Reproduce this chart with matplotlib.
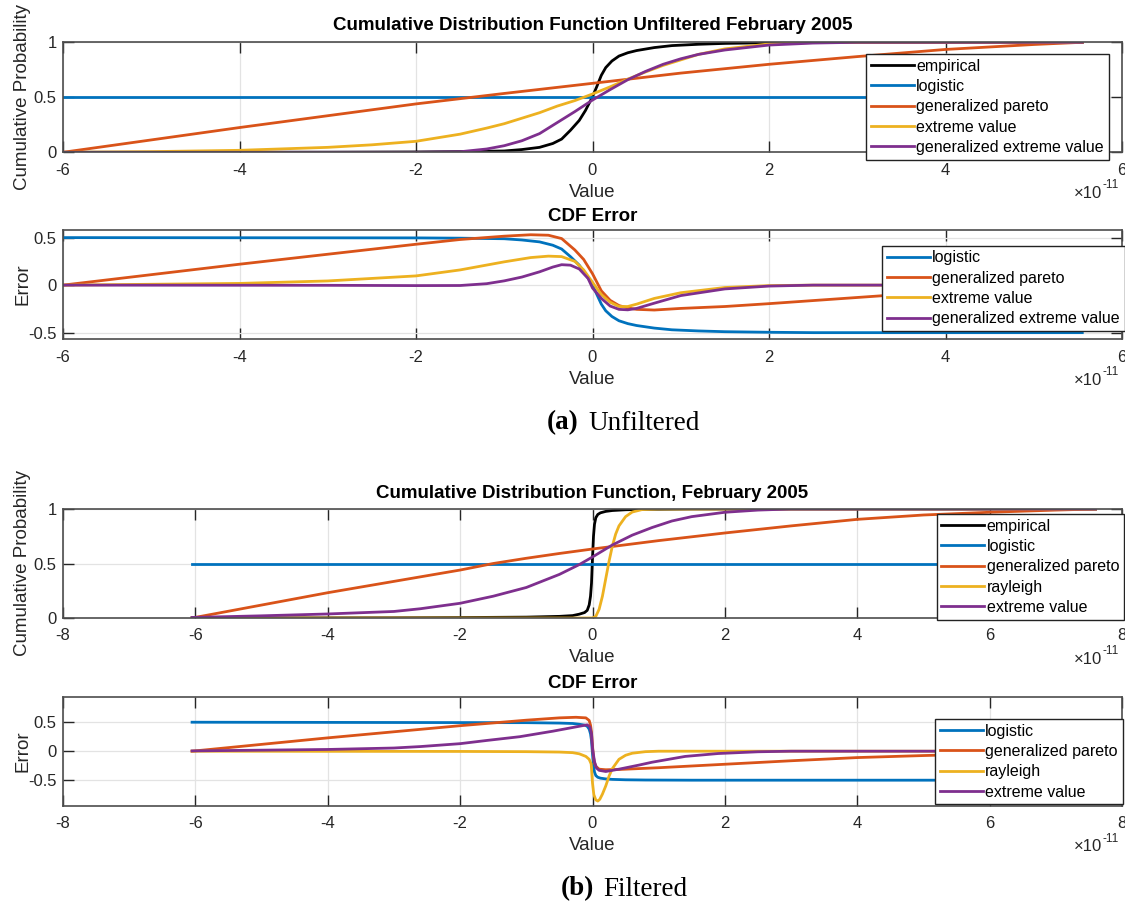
import matplotlib
matplotlib.use("Agg")
import matplotlib.pyplot as plt

plt.rcParams['font.family'] = ['Liberation Sans', 'DejaVu Sans']
plt.rcParams['axes.unicode_minus'] = False

# ---- unfiltered CDF (x in units of 1e-11) ----
u_emp_x = [-6, -3, -2, -1.5, -1, -0.8, -0.6, -0.45, -0.35, -0.25, -0.15, -0.08, 0, 0.05, 0.1, 0.15,
           0.22, 0.3, 0.4, 0.5, 0.7, 0.9, 1.2, 1.5, 2, 2.5, 5.55]
u_emp_y = [0, 0.001, 0.003, 0.006, 0.012, 0.025, 0.045, 0.08, 0.12, 0.2, 0.29, 0.38, 0.505, 0.6, 0.7, 0.77,
           0.83, 0.875, 0.905, 0.925, 0.952, 0.97, 0.982, 0.99, 0.996, 1.0, 1.0]
u_log_x = [-6, 5.55]
u_log_y = [0.5, 0.5]
u_gp_x = [-6, -4, -2, -1, 0, 1, 2, 3, 4, 5, 5.55]
u_gp_y = [0, 0.225, 0.44, 0.535, 0.627, 0.72, 0.80, 0.87, 0.935, 0.98, 1.0]
u_ev_x = [-6, -5, -4, -3, -2.5, -2, -1.5, -1.2, -1, -0.8, -0.6, -0.4, -0.2, 0, 0.2, 0.4, 0.6, 0.8, 1,
          1.2, 1.5, 2, 2.5, 3, 5.55]
u_ev_y = [0, 0.006, 0.018, 0.045, 0.068, 0.10, 0.165, 0.22, 0.26, 0.31, 0.36, 0.42, 0.47, 0.53, 0.595,
          0.665, 0.73, 0.79, 0.84, 0.89, 0.94, 0.985, 0.998, 1.0, 1.0]
u_gev_x = [-6, -3, -2, -1.5, -1.2, -1, -0.8, -0.6, -0.4, -0.2, 0, 0.2, 0.4, 0.6, 0.8, 1, 1.2, 1.5, 2,
           2.5, 3, 5.55]
u_gev_y = [0, 0.0, 0.0, 0.005, 0.03, 0.06, 0.105, 0.17, 0.27, 0.37, 0.475, 0.57, 0.66, 0.735, 0.80,
           0.85, 0.89, 0.93, 0.975, 0.993, 1.0, 1.0]

# ---- unfiltered CDF error ----
ue_log_x = [-6, -2, -1.5, -1, -0.8, -0.6, -0.45, -0.35, -0.25, -0.15, -0.08, 0, 0.05, 0.1, 0.15, 0.22,
            0.3, 0.4, 0.5, 0.7, 0.9, 1.2, 1.5, 2, 2.5, 5.55]
ue_log_y = [0.5, 0.497, 0.494, 0.488, 0.475, 0.455, 0.42, 0.38, 0.30, 0.21, 0.12, 0.0, -0.1, -0.2,
            -0.27, -0.33, -0.375, -0.405, -0.425, -0.452, -0.47, -0.482, -0.49, -0.496, -0.5, -0.5]
ue_gp_x = [-6, -4, -2, -1.5, -1, -0.7, -0.5, -0.35, -0.2, -0.1, 0, 0.1, 0.2, 0.3, 0.4, 0.5, 0.7, 1,
           1.5, 2, 3, 4, 5, 5.55]
ue_gp_y = [0, 0.22, 0.43, 0.48, 0.515, 0.53, 0.525, 0.49, 0.37, 0.27, 0.12, -0.06, -0.16, -0.215,
           -0.24, -0.255, -0.262, -0.245, -0.225, -0.195, -0.13, -0.065, -0.02, 0.0]
ue_ev_x = [-6, -4, -3, -2, -1.5, -1, -0.7, -0.5, -0.35, -0.2, -0.1, 0, 0.1, 0.2, 0.3, 0.4, 0.5, 0.7, 1,
           1.5, 2, 2.5, 5.55]
ue_ev_y = [0, 0.018, 0.044, 0.097, 0.16, 0.245, 0.29, 0.305, 0.30, 0.25, 0.16, 0.03, -0.1, -0.18,
           -0.225, -0.225, -0.2, -0.14, -0.08, -0.025, -0.005, 0.0, 0.0]
ue_gev_x = [-6, -3, -2, -1.5, -1.2, -1, -0.8, -0.6, -0.45, -0.35, -0.25, -0.15, -0.05, 0, 0.1, 0.2,
            0.3, 0.4, 0.5, 0.7, 1, 1.5, 2, 2.5, 5.55]
ue_gev_y = [0, -0.002, -0.005, -0.004, 0.015, 0.045, 0.085, 0.14, 0.19, 0.215, 0.21, 0.17, 0.07, -0.03,
            -0.14, -0.22, -0.255, -0.26, -0.245, -0.19, -0.11, -0.04, -0.01, 0.0, 0.0]

# ---- filtered CDF ----
f_emp_x = [-6.05, -3, -2, -1, -0.5, -0.3, -0.2, -0.12, -0.08, -0.05, -0.03, -0.015, 0, 0.015, 0.03,
           0.05, 0.08, 0.12, 0.2, 0.3, 0.5, 0.8, 1.5, 7.6]
f_emp_y = [0, 0.002, 0.004, 0.008, 0.015, 0.022, 0.035, 0.05, 0.07, 0.12, 0.2, 0.32, 0.55, 0.75, 0.86,
           0.92, 0.95, 0.965, 0.978, 0.986, 0.993, 0.997, 1.0, 1.0]
f_log_x = [-6.05, 7.6]
f_log_y = [0.5, 0.5]
f_gp_x = [-6.05, -4, -2, -1.5, -1, -0.5, 0, 1, 2, 3, 4, 5, 6, 7, 7.6]
f_gp_y = [0, 0.232, 0.44, 0.5, 0.548, 0.592, 0.633, 0.71, 0.78, 0.845, 0.905, 0.945, 0.97, 0.99, 1.0]
f_ray_x = [-6.05, 0.0, 0.05, 0.1, 0.15, 0.2, 0.25, 0.3, 0.35, 0.4, 0.5, 0.6, 0.75, 1.0, 7.6]
f_ray_y = [0, 0, 0.015, 0.08, 0.2, 0.36, 0.52, 0.66, 0.77, 0.845, 0.93, 0.972, 0.995, 1.0, 1.0]
f_ev_x = [-6.05, -5, -4, -3, -2.6, -2, -1.5, -1, -0.5, -0.2, 0, 0.3, 0.6, 0.9, 1.2, 1.5, 2, 2.5, 3, 7.6]
f_ev_y = [0.005, 0.02, 0.037, 0.06, 0.085, 0.135, 0.2, 0.28, 0.4, 0.49, 0.56, 0.67, 0.76, 0.83, 0.89,
          0.93, 0.97, 0.99, 1.0, 1.0]

# ---- filtered CDF error ----
fe_log_x = [-6.05, -1, -0.5, -0.3, -0.2, -0.12, -0.08, -0.05, -0.03, -0.015, 0, 0.015, 0.03, 0.05,
            0.08, 0.12, 0.2, 0.3, 0.5, 0.8, 1.5, 7.6]
fe_log_y = [0.5, 0.492, 0.485, 0.478, 0.465, 0.45, 0.43, 0.38, 0.3, 0.18, -0.05, -0.25, -0.36, -0.42,
            -0.45, -0.465, -0.478, -0.486, -0.493, -0.497, -0.5, -0.5]
fe_gp_x = [-6.05, -4, -2, -1, -0.5, -0.25, -0.1, -0.05, -0.03, -0.015, 0, 0.015, 0.03, 0.05, 0.1, 0.2,
           0.4, 0.7, 1, 2, 3, 4, 5, 6, 7, 7.6]
fe_gp_y = [0, 0.23, 0.44, 0.535, 0.575, 0.585, 0.575, 0.53, 0.45, 0.33, 0.09, -0.1, -0.2, -0.26, -0.31,
           -0.32, -0.315, -0.3, -0.285, -0.225, -0.165, -0.11, -0.075, -0.045, -0.015, 0.0]
fe_ray_x = [-6.05, -2, -1, -0.5, -0.3, -0.2, -0.1, -0.05, -0.02, 0, 0.02, 0.05, 0.08, 0.11, 0.15, 0.2,
            0.25, 0.3, 0.4, 0.5, 0.6, 0.8, 1.0, 7.6]
fe_ray_y = [0, -0.004, -0.008, -0.015, -0.025, -0.045, -0.09, -0.14, -0.22, -0.55, -0.75, -0.84, -0.86,
            -0.83, -0.74, -0.6, -0.43, -0.3, -0.14, -0.07, -0.035, -0.008, 0, 0]
fe_ev_x = [-6.05, -4, -3, -2.6, -2, -1.6, -1.1, -0.6, -0.2, -0.08, -0.04, -0.015, 0, 0.03, 0.06, 0.1,
           0.2, 0.4, 0.7, 0.9, 1.4, 1.9, 2.5, 3, 7.6]
fe_ev_y = [0.005, 0.03, 0.055, 0.08, 0.13, 0.185, 0.25, 0.345, 0.43, 0.455, 0.42, 0.3, 0.05, -0.18,
           -0.29, -0.33, -0.35, -0.31, -0.24, -0.19, -0.09, -0.04, -0.01, 0, 0]

BLUE = '#0072BD'
ORANGE = '#D95319'
YELLOW = '#EDB120'
PURPLE = '#7E2F8E'
AXC = '#262626'
LW = 2.0

W, H = 1125, 901
fig = plt.figure(figsize=(W / 100, H / 100), dpi=100)


def make_ax(top, bottom):
    hpx = bottom - top
    ax = fig.add_axes([63 / W, 1 - bottom / H, (1122 - 63) / W, hpx / H])
    ax.grid(True, color='#e3e3e3', lw=0.9)
    ax.set_axisbelow(True)
    for s in ax.spines.values():
        s.set_color('#4d4d4d')
        s.set_linewidth(1.2)
    ax.tick_params(direction='in', length=8, width=1.0, color=AXC, labelcolor=AXC,
                   labelsize=12, top=True, right=True)
    ax.tick_params(axis='x', pad=7.5)
    ax.tick_params(axis='y', pad=4.5)
    ax.yaxis.set_label_coords(-0.030, 0.5)
    return ax


def legend(ax, x, y, labels, handles):
    lg = ax.legend(handles, labels, loc='upper left', bbox_to_anchor=(x / W, 1 - y / H),
                   bbox_transform=fig.transFigure, fontsize=11.5, frameon=True, fancybox=False,
                   handlelength=2.7, handletextpad=0.15, labelspacing=0.33, borderpad=0.3,
                   borderaxespad=0)
    lg.get_frame().set_edgecolor('#222222')
    lg.get_frame().set_linewidth(1.0)
    lg.get_frame().set_alpha(1)


def xunits(ax, xlim, top, bottom):
    ax.set_xlim(*xlim)
    ax.set_xticks(range(xlim[0], xlim[1] + 1, 2))
    ax.set_xticklabels([str(v) for v in range(xlim[0], xlim[1] + 1, 2)])
    ax.set_xlabel('Value', fontsize=13.5, color=AXC)
    ax.xaxis.set_label_coords(0.5, -31.5 / (bottom - top))
    # exponent label, MATLAB style
    fig.text(1102 / W, 1 - (bottom + 41) / H, '\u00d710', ha='right', va='center',
             fontsize=12, color=AXC)
    fig.text(1102.5 / W, 1 - (bottom + 33) / H, '-11', ha='left', va='center',
             fontsize=8.5, color=AXC)


# panel 1
ax1 = make_ax(42.3, 152.3)
h = []
h += ax1.plot(u_emp_x, u_emp_y, color='black', lw=LW)
h += ax1.plot(u_log_x, u_log_y, color=BLUE, lw=LW)
h += ax1.plot(u_gp_x, u_gp_y, color=ORANGE, lw=LW)
h += ax1.plot(u_ev_x, u_ev_y, color=YELLOW, lw=LW)
h += ax1.plot(u_gev_x, u_gev_y, color=PURPLE, lw=LW)
ax1.set_ylim(0, 1)
ax1.set_yticks([0, 0.5, 1])
ax1.set_yticklabels(['0', '0.5', '1'])
ax1.set_ylabel('Cumulative Probability', fontsize=13.5, color=AXC)
ax1.set_title('Cumulative Distribution Function Unfiltered February 2005', fontsize=13.5,
              fontweight='bold', pad=9)
xunits(ax1, (-6, 6), 42.3, 152.3)
legend(ax1, 866, 54, ['empirical', 'logistic', 'generalized pareto', 'extreme value',
                      'generalized extreme value'], h)

# panel 2
ax2 = make_ax(230, 339.3)
h = []
h += ax2.plot(ue_log_x, ue_log_y, color=BLUE, lw=LW)
h += ax2.plot(ue_gp_x, ue_gp_y, color=ORANGE, lw=LW)
h += ax2.plot(ue_ev_x, ue_ev_y, color=YELLOW, lw=LW)
h += ax2.plot(ue_gev_x, ue_gev_y, color=PURPLE, lw=LW)
ax2.set_ylim(-0.57, 0.58)
ax2.set_yticks([-0.5, 0, 0.5])
ax2.set_yticklabels(['-0.5', '0', '0.5'])
ax2.set_ylabel('Error', fontsize=13.5, color=AXC)
ax2.set_title('CDF Error', fontsize=13.5, fontweight='bold', pad=6.5)
xunits(ax2, (-6, 6), 230, 339.3)
legend(ax2, 882, 245.5, ['logistic', 'generalized pareto', 'extreme value',
                         'generalized extreme value'], h)

# panel 3
ax3 = make_ax(509, 618)
h = []
h += ax3.plot(f_emp_x, f_emp_y, color='black', lw=LW)
h += ax3.plot(f_log_x, f_log_y, color=BLUE, lw=LW)
h += ax3.plot(f_gp_x, f_gp_y, color=ORANGE, lw=LW)
h += ax3.plot(f_ray_x, f_ray_y, color=YELLOW, lw=LW)
h += ax3.plot(f_ev_x, f_ev_y, color=PURPLE, lw=LW)
ax3.set_ylim(0, 1)
ax3.set_yticks([0, 0.5, 1])
ax3.set_yticklabels(['0', '0.5', '1'])
ax3.set_ylabel('Cumulative Probability', fontsize=13.5, color=AXC)
ax3.set_title('Cumulative Distribution Function, February 2005', fontsize=13.5,
              fontweight='bold', pad=8)
xunits(ax3, (-8, 8), 509, 618)
legend(ax3, 936.5, 514, ['empirical', 'logistic', 'generalized pareto', 'rayleigh',
                         'extreme value'], h)

# panel 4
ax4 = make_ax(696.7, 805.7)
h = []
h += ax4.plot(fe_log_x, fe_log_y, color=BLUE, lw=LW)
h += ax4.plot(fe_gp_x, fe_gp_y, color=ORANGE, lw=LW)
h += ax4.plot(fe_ray_x, fe_ray_y, color=YELLOW, lw=LW)
h += ax4.plot(fe_ev_x, fe_ev_y, color=PURPLE, lw=LW)
ax4.set_ylim(-0.94, 0.94)
ax4.set_yticks([-0.5, 0, 0.5])
ax4.set_yticklabels(['-0.5', '0', '0.5'])
ax4.set_ylabel('Error', fontsize=13.5, color=AXC)
ax4.set_title('CDF Error', fontsize=13.5, fontweight='bold', pad=6.5)
xunits(ax4, (-8, 8), 696.7, 805.7)
legend(ax4, 935, 719, ['logistic', 'generalized pareto', 'rayleigh', 'extreme value'], h)

# captions: bold tag + plain text, serif
serif = ['Liberation Serif', 'DejaVu Serif']
for tag, text, x_tag, x_txt, ypix in [('(a)', 'Unfiltered', 579, 588, 423),
                                     ('(b)', 'Filtered', 594, 603, 889)]:
    fig.text(x_tag / W, 1 - ypix / H, tag, ha='right', va='center', fontsize=19.5,
             fontweight='bold', family=serif)
    fig.text(x_txt / W, 1 - ypix / H, text, ha='left', va='center', fontsize=19.5,
             family=serif)

fig.savefig('out.png', dpi=100)
